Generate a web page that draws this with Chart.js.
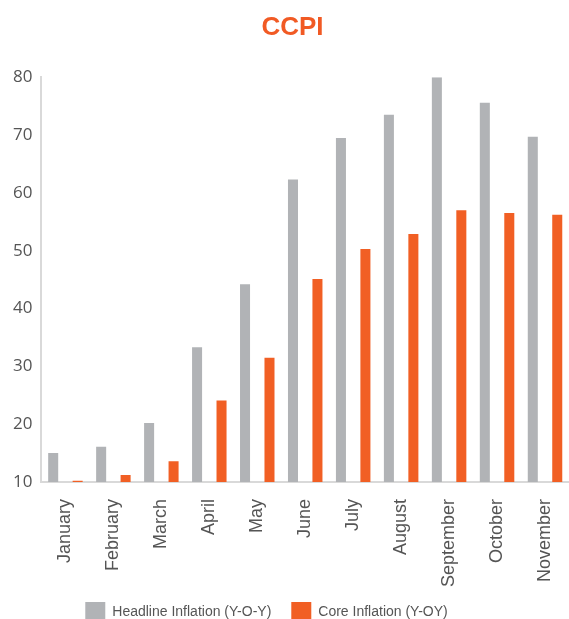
<!DOCTYPE html>
<html>
<head>
<meta charset="utf-8">
<script src="https://cdn.jsdelivr.net/npm/chart.js@4/dist/chart.umd.min.js"></script>
<style>
  html, body { margin: 0; padding: 0; background: #fff; }
  #wrap { width: 569px; height: 619px; }
</style>
</head>
<body>
<div id="wrap"><canvas id="c" width="569" height="619"></canvas></div>
<script>
const categories = ["January","February","March","April","May","June","July","August","September","October","November"];
const headline = [15.0, 16.1, 20.2, 33.3, 44.2, 62.3, 69.5, 73.5, 80.0, 75.6, 69.7];
const core = [10.2, 11.2, 13.6, 24.1, 31.5, 45.1, 50.3, 52.9, 57.0, 56.5, 56.2];
const yTicks = [10, 20, 30, 40, 50, 60, 70, 80];
const seriesNames = ["Headline Inflation (Y-O-Y)", "Core Inflation (Y-OY)"];

const shiftBoxes = {
  id: 'shiftBoxes',
  beforeDraw(chart) {
    if (chart._boxesShifted) return;
    const lg = chart.legend;
    if (lg) {
      const dx = -26, dy = -14;
      lg.left += dx; lg.right += dx; lg.top += dy; lg.bottom += dy;
      if (lg.legendHitBoxes) lg.legendHitBoxes.forEach(h => { h.left += dx; h.top += dy; });
    }
    chart._boxesShifted = true;
  },
  afterUpdate(chart) { chart._boxesShifted = false; }
};

new Chart(document.getElementById('c'), {
  type: 'bar',
  plugins: [shiftBoxes],
  data: {
    labels: categories,
    datasets: [
      { label: seriesNames[0], data: headline, backgroundColor: '#B1B3B6', borderWidth: 0,
        categoryPercentage: 1.02, barPercentage: 0.41 },
      { label: seriesNames[1], data: core, backgroundColor: '#F15F24', borderWidth: 0,
        categoryPercentage: 1.02, barPercentage: 0.41 }
    ]
  },
  options: {
    responsive: false,
    animation: false,
    layout: { padding: { left: 12, right: -4, top: 0, bottom: -27 } },
    plugins: {
      title: {
        display: true, text: 'CCPI', color: '#F15A24',
        font: { family: 'Liberation Sans', size: 26, weight: 'bold' },
        padding: { top: 12, bottom: 34 }
      },
      legend: {
        position: 'bottom',
        labels: {
          boxWidth: 20, boxHeight: 20, padding: 20,
          color: '#555', font: { family: 'Liberation Sans', size: 14 }
        }
      },
      tooltip: { enabled: false }
    },
    scales: {
      x: {
        grid: { display: false },
        border: { display: true, color: '#D9D9D9', width: 2 },
        afterFit: (scale) => { scale.paddingRight = 0; },
        ticks: {
          minRotation: 90, maxRotation: 90, padding: 9,
          color: '#555', font: { family: 'Liberation Sans', size: 18 }
        }
      },
      y: {
        min: 10, max: 80,
        grid: { display: false },
        border: { display: true, color: '#D9D9D9', width: 2 },
        afterBuildTicks: (axis) => { axis.ticks = yTicks.map(v => ({ value: v })); },
        ticks: {
          padding: 1,
          color: '#555', font: { family: 'Open Sans', size: 17 }
        }
      }
    }
  }
});
</script>
</body>
</html>
